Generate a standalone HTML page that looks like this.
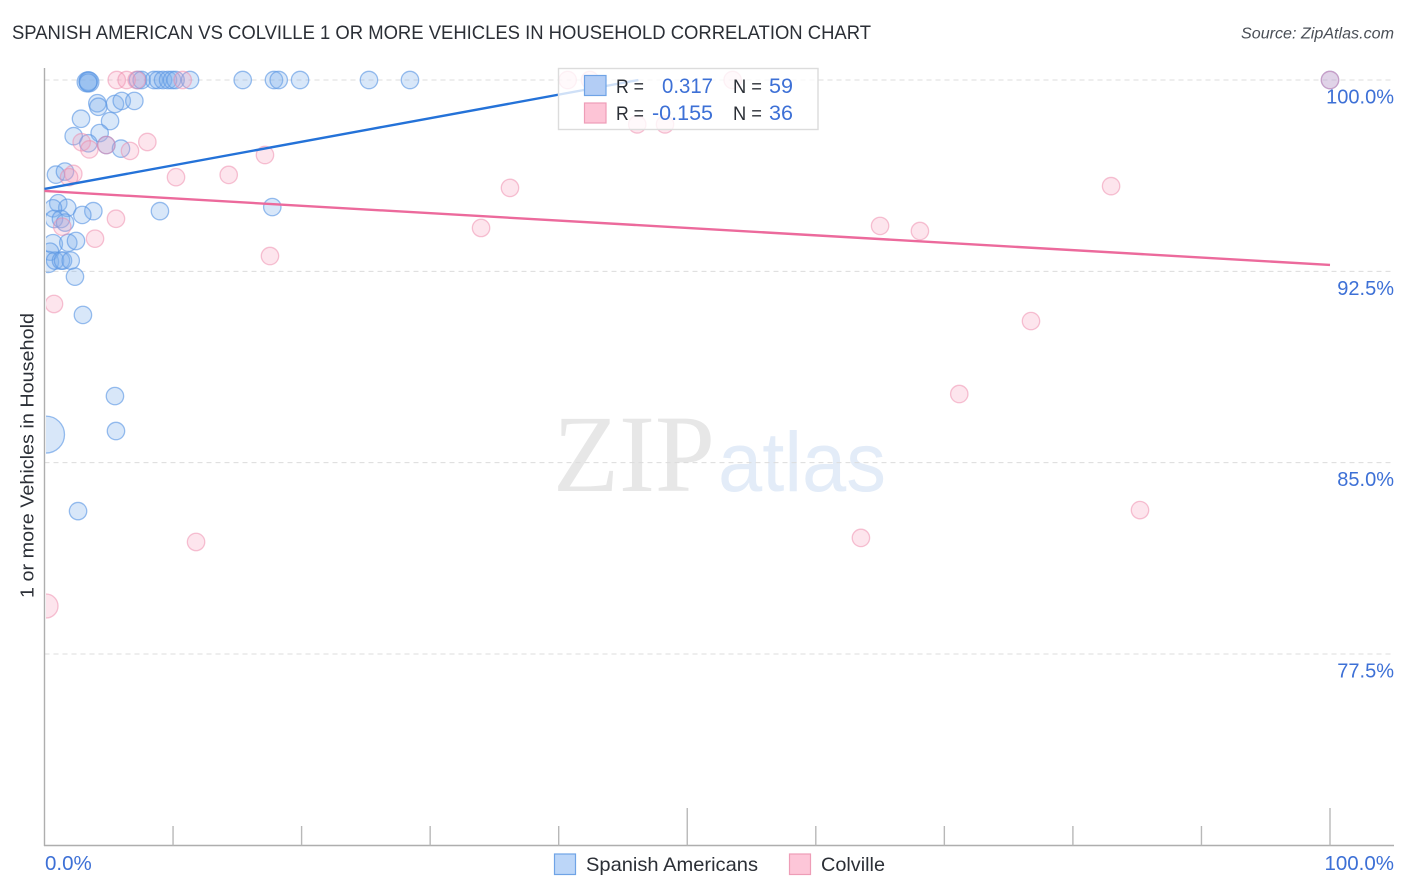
<!DOCTYPE html>
<html>
<head>
<meta charset="utf-8">
<title>Spanish American vs Colville correlation chart</title>
<style>
html,body{margin:0;padding:0;background:#fff;width:1406px;height:892px;overflow:hidden}
svg{display:block;font-family:"Liberation Sans",sans-serif}
</style>
</head>
<body>
<svg id="chart" xmlns="http://www.w3.org/2000/svg" width="1406" height="892" viewBox="0 0 1406 892">
  <defs><clipPath id="plot-clip"><rect x="46" y="60" width="1348" height="786"></rect></clipPath></defs>
  <rect x="0" y="0" width="1406" height="892" fill="#fff"></rect>
  <text x="12" y="39" font-size="19" fill="#2b2f36" textLength="859" lengthAdjust="spacingAndGlyphs">SPANISH AMERICAN VS COLVILLE 1 OR MORE VEHICLES IN HOUSEHOLD CORRELATION CHART</text>
  <text x="1241" y="38.5" font-size="15.5" font-style="italic" fill="#4a4f57" textLength="153" lengthAdjust="spacingAndGlyphs">Source: ZipAtlas.com</text>
  <g>
    <text x="553" y="491" font-family="'Liberation Serif',serif" font-size="110" fill="#e7e7e7" textLength="162" lengthAdjust="spacingAndGlyphs">ZIP</text>
    <text x="718" y="491" font-size="84" fill="#e3ecf8" textLength="168" lengthAdjust="spacingAndGlyphs">atlas</text>
  </g>
  <g id="grid"></g>
  <g id="axes"></g>
  <g id="blue-points" clip-path="url(#plot-clip)"></g>
  <g id="pink-points" clip-path="url(#plot-clip)"></g>
  <g id="trends"></g>
  <text transform="translate(33.5,455.5) rotate(-90)" font-size="18.5" fill="#2b2f36" text-anchor="middle" textLength="285" lengthAdjust="spacingAndGlyphs">1 or more Vehicles in Household</text>

  <g>
    <rect x="558.5" y="68.5" width="259.5" height="61" fill="#fff" fill-opacity="0.78" stroke="#dcdcdc" stroke-width="1.4"></rect>
    <rect x="584.5" y="75.5" width="21.5" height="20" fill="#b3cdf5" stroke="#6fa3e6" stroke-width="1.2"></rect>
    <rect x="584.5" y="103" width="21.5" height="20" fill="#fdc4d6" stroke="#ee9db7" stroke-width="1.2"></rect>
    <text x="616" y="93" font-size="19" fill="#2b2f36" textLength="28" lengthAdjust="spacingAndGlyphs">R =</text>
    <text x="662" y="93" font-size="21" fill="#3d70d6" textLength="51" lengthAdjust="spacingAndGlyphs">0.317</text>
    <text x="733" y="93" font-size="19" fill="#2b2f36" textLength="29" lengthAdjust="spacingAndGlyphs">N =</text>
    <text x="769" y="93" font-size="21" fill="#3d70d6" textLength="24" lengthAdjust="spacingAndGlyphs">59</text>
    <text x="616" y="120" font-size="19" fill="#2b2f36" textLength="28" lengthAdjust="spacingAndGlyphs">R =</text>
    <text x="652" y="120" font-size="21" fill="#3d70d6" textLength="61" lengthAdjust="spacingAndGlyphs">-0.155</text>
    <text x="733" y="120" font-size="19" fill="#2b2f36" textLength="29" lengthAdjust="spacingAndGlyphs">N =</text>
    <text x="769" y="120" font-size="21" fill="#3d70d6" textLength="24" lengthAdjust="spacingAndGlyphs">36</text>
  </g>

  <g>
    <rect x="554.5" y="854" width="21" height="20.5" fill="#bcd6f8" stroke="#6fa3e6" stroke-width="1.2"></rect>
    <text x="586" y="871" font-size="19.5" fill="#2b2f36" textLength="172" lengthAdjust="spacingAndGlyphs">Spanish Americans</text>
    <rect x="789.5" y="854" width="21" height="20.5" fill="#fdc6d8" stroke="#ee9db7" stroke-width="1.2"></rect>
    <text x="821" y="871" font-size="19.5" fill="#2b2f36" textLength="64" lengthAdjust="spacingAndGlyphs">Colville</text>
  </g>
</svg>
<script>
const yTickValues = [100, 92.5, 85, 77.5];
const yTickLabels = ["100.0%", "92.5%", "85.0%", "77.5%"];
const xTickValues = [10, 20, 30, 40, 50, 60, 70, 80, 90, 100];
const xEndValues = [0, 100];
const xEndLabels = ["0.0%", "100.0%"];

const blueX = [7.27,7.56,8.52,8.83,9.22,9.61,9.92,10.2,11.32,15.42,17.85,18.22,19.88,25.24,28.43,100,
  3.31,3.41,3.46,3.4,
  4.11,4.19,5.48,6.01,6.99,
  2.84,5.10,4.29,2.27,3.41,4.81,5.95,
  0.89,1.59,
  1.07,1.77,3.80,2.94,0.66,0.74,1.28,1.6,
  8.98,17.72,
  0.66,1.85,2.45,
  0.43,0.27,0.82,1.28,1.44,2.04,2.37,
  2.99,5.48,5.56,0.12,2.61];
const blueY = [100,100,100,100,100,100,100,100,100,100,100,100,100,100,100,100,
  99.92,99.96,99.92,99.9,
  99.09,98.95,99.06,99.18,99.18,
  98.48,98.39,97.92,97.80,97.52,97.45,97.31,
  96.29,96.41,
  95.17,94.99,94.86,94.71,94.97,94.55,94.55,94.41,
  94.86,95.02,
  93.57,93.62,93.69,
  93.27,92.87,92.92,92.92,92.92,92.92,92.29,
  90.79,87.61,86.24,86.10,83.10];
const blueWeight = [1,1,1,1,1,1,1,1,1,1,1,1,1,1,1,1,
  1.3,1.15,1.3,1,
  1,1,1,1,1,
  1,1,1,1,1,1,1,
  1,1,
  1,1,1,1,1,1,1,1,
  1,1,
  1.2,1,1,
  1,1.5,1,1,1,1,1,
  1,1,1,4.5,1];

const pinkX = [5.62,6.39,7.17,10.75,40.7,42.43,53.53,100,46.11,48.27,
  2.89,3.49,4.81,6.65,8.0,17.15,2.24,1.91,10.23,14.33,5.56,1.38,3.93,17.54,
  0.74,11.79,0.12,36.21,33.96,65.0,68.1,82.97,76.74,71.16,63.51,85.22];
const pinkY = [100,100,100,100,100,100,100,100,98.26,98.26,
  97.56,97.28,97.45,97.22,97.57,97.06,96.32,96.19,96.19,96.28,94.56,94.25,93.78,93.10,
  91.22,81.89,79.38,95.77,94.2,94.28,94.08,95.84,90.55,87.69,82.05,83.14];
const pinkWeight = [1,1,1,1,1,1,1,1,1,1,
  1,1,1,1,1,1,1,1,1,1,1,1,1,1,
  1,1,1.9,1,1,1,1,1,1,1,1,1];

const blueTrendX = [0, 46.2];
const blueTrendY = [95.73, 100];
const pinkTrendX = [0, 100];
const pinkTrendY = [95.65, 92.75];

const NS = "http://www.w3.org/2000/svg";
function xScale(v){ return 44.5 + v * 12.855; }
function yScale(v){ return 80 + (100 - v) * 25.51; }
function radius(w){ return 8.7 * Math.sqrt(w); }
function make(tag, parentId, props){
  const el = document.createElementNS(NS, tag);
  for (const k in props) el.setAttribute(k, props[k]);
  document.getElementById(parentId).appendChild(el);
  return el;
}

// Horizontal gridlines and y tick labels
yTickValues.forEach(function(v, i){
  const line = make("line", "grid", {x1: 44.5, x2: 1394, y1: yScale(v), y2: yScale(v), stroke: "#dcdcdc", "stroke-width": 1, "stroke-dasharray": "5 4"});
  
  
  const label = make("text", "axes", {x: 1394, y: yScale(v) + 23.5, "font-size": 20, fill: "#3d70d6", "text-anchor": "end"});
  label.textContent = yTickLabels[i];
  
  
});

// Axis lines
const yAxis = make("line", "axes", {x1: 44.5, x2: 44.5, y1: 68, y2: 846, stroke: "#aeaeae", "stroke-width": 1.4});


const xAxis = make("line", "axes", {x1: 44, x2: 1394, y1: 845.5, y2: 845.5, stroke: "#aeaeae", "stroke-width": 1.4});



// X ticks
xTickValues.forEach(function(v){
  const top = (v % 50 === 0) ? 808 : 826;
  const tick = make("line", "axes", {x1: xScale(v), x2: xScale(v), y1: top, y2: 845.5, stroke: "#b8b8b8", "stroke-width": 1.4});
  
  
});
xEndValues.forEach(function(v, i){
  const label = make("text", "axes", {x: i === 0 ? xScale(v) + 0.5 : 1394, y: 870, "font-size": 20.5, fill: "#3d70d6", "text-anchor": i === 0 ? "start" : "end"});
  label.textContent = xEndLabels[i];
  
  
});

// Points
blueX.forEach(function(v, i){
  const c = make("circle", "blue-points", {cx: xScale(v), cy: yScale(blueY[i]), r: radius(blueWeight[i]), fill: "#7fb0ec", "fill-opacity": 0.3, stroke: "#5a96e4", "stroke-opacity": 0.62, "stroke-width": 1.3});
  
  
});
pinkX.forEach(function(v, i){
  const c = make("circle", "pink-points", {cx: xScale(v), cy: yScale(pinkY[i]), r: radius(pinkWeight[i]), fill: "#f79cba", "fill-opacity": 0.26, stroke: "#ee88aa", "stroke-opacity": 0.5, "stroke-width": 1.3});
  
  
});

// Trend lines
const blueTrend = make("line", "trends", {x1: xScale(blueTrendX[0]), y1: yScale(blueTrendY[0]), x2: xScale(blueTrendX[1]), y2: yScale(blueTrendY[1]), stroke: "#2472d8", "stroke-width": 2.4});


const pinkTrend = make("line", "trends", {x1: xScale(pinkTrendX[0]), y1: yScale(pinkTrendY[0]), x2: xScale(pinkTrendX[1]), y2: yScale(pinkTrendY[1]), stroke: "#ec6a9c", "stroke-width": 2.4});


</script>
</body>
</html>
